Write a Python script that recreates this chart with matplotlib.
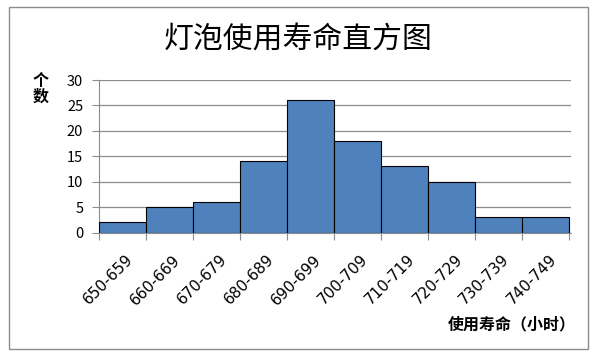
import numpy as np
import matplotlib.pyplot as plt
from matplotlib.patches import Rectangle

plt.rcParams['font.family'] = ['Noto Sans CJK SC', 'DejaVu Sans']

# datos del histograma
categorias = ['650-659', '660-669', '670-679', '680-689', '690-699',
              '700-709', '710-719', '720-729', '730-739', '740-749']
frecuencias = [2, 5, 6, 14, 26, 18, 13, 10, 3, 3]
yticks = [0, 5, 10, 15, 20, 25, 30]

W, H = 606, 363
fig = plt.figure(figsize=(W/100, H/100), dpi=100)

# marco exterior del grafico
fig.patches.append(Rectangle((9/W, 1-349/H), (588-9)/W, (349-7)/H,
                             transform=fig.transFigure, fill=False,
                             edgecolor='#8c8c8c', linewidth=1))

ax = fig.add_axes([98.5/W, 1-232.5/H, (571-98.5)/W, (232.5-80)/H])
x = np.arange(len(categorias))
ax.bar(x, frecuencias, width=1.0, color='#4F81BD', edgecolor='black',
       linewidth=0.8, zorder=3)
ax.set_xlim(-0.5, len(categorias) - 0.5 + 0.05)
ax.set_ylim(0, 30)
ax.set_yticks(yticks)
ax.yaxis.grid(True, color='#8c8c8c', linewidth=0.9, zorder=0)
for s in ['top', 'right']:
    ax.spines[s].set_visible(False)
for s in ['left', 'bottom']:
    ax.spines[s].set_color('#8c8c8c')
ax.tick_params(axis='y', length=5, color='#8c8c8c', labelsize=10.5, pad=6)

# ticks en los bordes de las categorias, etiquetas en el centro
ax.set_xticks(np.arange(len(categorias) + 1) - 0.5)
ax.set_xticklabels([])
ax.tick_params(axis='x', length=5, color='#8c8c8c')
for i, c in enumerate(categorias):
    ax.annotate(c, xy=(i, 0), xycoords=('data', 'axes fraction'),
                xytext=(2.5, -14), textcoords='offset points',
                rotation=45, ha='right', va='top', rotation_mode='anchor',
                fontsize=11, family='DejaVu Sans')

fig.text(298/W, 1-40/H, '灯泡使用寿命直方图', ha='center', va='center',
         fontsize=21.5)
fig.text(41/W, 1-89/H, '个\n数', ha='center', va='center', fontsize=11.5,
         fontweight='bold', linespacing=1.0)
fig.text(512/W, 1-324/H, '使用寿命（小时）', ha='center', va='center',
         fontsize=11.5, fontweight='bold')

fig.savefig('out.png', dpi=100)
